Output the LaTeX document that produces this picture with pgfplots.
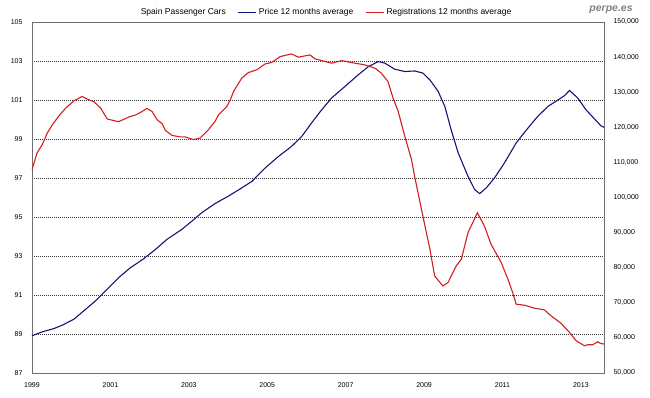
\documentclass[border=0pt]{standalone}
\usepackage{fontspec}
\setmainfont{Liberation Sans}
\usepackage{pgfplots}
\pgfplotsset{compat=1.18}
\definecolor{pblue}{RGB}{20,20,120}
\definecolor{pred}{RGB}{210,30,30}
\definecolor{framegray}{RGB}{110,110,110}
\definecolor{wmgray}{RGB}{130,130,130}
\begin{document}
\begin{tikzpicture}
\useasboundingbox (-32pt,-25pt) rectangle (618pt,373pt);
\pgfplotsset{
  every axis/.append style={
    scale only axis, width=572pt, height=351pt,
    xmin=1999, xmax=2013.59,
    major tick length=0pt,
    tick label style={font=\fontsize{7}{8}\selectfont},
    /pgf/number format/assume math mode=true,
    axis line style={framegray, line width=0.8pt},
  }
}
\begin{axis}[
  name=ax,
  ymin=87, ymax=105,
  ytick={87,89,...,105},
  xtick={1999,2001,2003,2005,2007,2009,2011,2013},
  xticklabels={1999,2001,2003,2005,2007,2009,2011,2013},
  xticklabel style={yshift=-6pt},
  yticklabel style={xshift=-6pt},
  ymajorgrids,
  major grid style={black!80, line width=0.5pt, dash pattern=on 1pt off 1pt},
]
\addplot[pblue, line width=1.1pt] coordinates {
(1999.00,88.91) (1999.26,89.11) (1999.56,89.28) (1999.77,89.45) (2000.07,89.76)
(2000.37,90.27) (2000.62,90.70) (2000.96,91.38) (2001.21,91.89) (2001.51,92.40)
(2001.85,92.86) (2002.15,93.34) (2002.44,93.85) (2002.82,94.36) (2003.08,94.79)
(2003.33,95.22) (2003.67,95.69) (2004.01,96.07) (2004.31,96.44) (2004.61,96.83)
(2004.95,97.52) (2005.29,98.11) (2005.62,98.62) (2005.88,99.13) (2006.13,99.82)
(2006.39,100.50) (2006.64,101.10) (2006.98,101.69) (2007.32,102.29) (2007.58,102.71)
(2007.83,102.97) (2008.00,102.89) (2008.25,102.58) (2008.51,102.46) (2008.76,102.49)
(2008.97,102.38) (2009.15,102.03) (2009.36,101.44) (2009.53,100.67) (2009.69,99.48)
(2009.87,98.29) (2010.12,97.09) (2010.29,96.41) (2010.42,96.20) (2010.59,96.50)
(2010.80,97.01) (2011.05,97.77) (2011.35,98.80) (2011.65,99.56) (2011.90,100.16)
(2012.16,100.67) (2012.49,101.10) (2012.58,101.22) (2012.71,101.49) (2012.92,101.10)
(2013.13,100.50) (2013.51,99.68) (2013.59,99.60)
};
\end{axis}
\begin{axis}[
  axis y line*=right,
  axis x line=none,
  ymin=50000, ymax=150000,
  ytick={50000,60000,...,150000},
  scaled y ticks=false,
  yticklabel style={xshift=6pt, /pgf/number format/.cd, fixed, 1000 sep={,}},
  legend style={draw=none, fill=none, at={(rel axis cs:0.514,1.028)}, anchor=center,
    font=\fontsize{8.5}{10}\selectfont, legend columns=3,
    /tikz/every even column/.append style={column sep=10pt}},
  legend image code/.code={\draw[#1] (0pt,0pt) -- (18pt,0pt);},
]
\addlegendimage{empty legend}
\addlegendentry{Spain Passenger Cars}
\addlegendimage{pblue, line width=1.1pt}
\addlegendentry{Price 12 months average}
\addplot[pred, line width=1.1pt] coordinates {
(1999.00,107950) (1999.13,112700) (1999.26,115050) (1999.39,118380) (1999.52,120740)
(1999.69,123290) (1999.86,125480) (2000.07,127560) (2000.28,128780) (2000.41,128040)
(2000.58,127270) (2000.75,125480) (2000.92,122360) (2001.21,121590) (2001.47,122930)
(2001.64,123500) (2001.77,124240) (2001.93,125370) (2002.06,124520) (2002.19,122160)
(2002.32,121020) (2002.40,119140) (2002.57,117700) (2002.78,117250) (2002.91,117250)
(2003.12,116480) (2003.29,116950) (2003.50,119320) (2003.67,121680) (2003.76,123580)
(2003.97,125940) (2004.06,127840) (2004.14,130200) (2004.35,134000) (2004.52,135600)
(2004.73,136360) (2004.95,138070) (2005.11,138440) (2005.33,140140) (2005.62,140910)
(2005.79,139970) (2006.09,140620) (2006.22,139490) (2006.64,138260) (2006.90,139010)
(2007.15,138440) (2007.49,137780) (2007.75,136840) (2007.91,135420) (2008.08,133040)
(2008.21,128310) (2008.34,124520) (2008.51,117410) (2008.68,110800) (2008.76,106000)
(2008.97,94690) (2009.15,85230) (2009.27,77650) (2009.48,74800) (2009.61,75760)
(2009.82,80500) (2009.95,82390) (2010.12,89970) (2010.36,95650) (2010.54,91850)
(2010.71,86650) (2010.97,81450) (2011.14,76700) (2011.26,72920) (2011.35,69600)
(2011.56,69320) (2011.82,68460) (2012.07,67980) (2012.24,66280) (2012.49,64200)
(2012.71,61560) (2012.88,59200) (2013.09,57760) (2013.17,58040) (2013.30,58040)
(2013.43,58890) (2013.51,58400) (2013.59,58240)
};
\addlegendentry{Registrations 12 months average}
\end{axis}
\node[font=\fontsize{10.5}{12}\bfseries\itshape, text=wmgray] at ([xshift=7pt,yshift=12pt]ax.north east) {perpe.es};
\end{tikzpicture}
\end{document}
